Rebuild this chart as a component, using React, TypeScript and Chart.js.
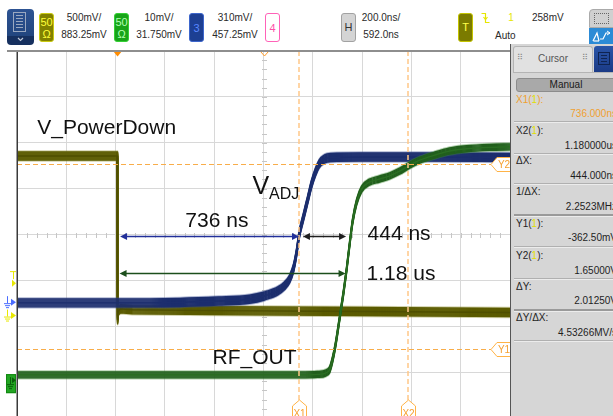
import React, { useEffect, useRef } from "react";
import { Chart, registerables } from "chart.js";

Chart.register(...registerables);

const FONT = '"Liberation Sans", Arial, Helvetica, sans-serif';

// ---- horizontal: time in ns (200 ns/div, 10 div, position 592 ns) ----
const X_MIN = -408;
const X_MAX = 1592;
const X_GRID = [-408, -208, -8, 192, 392, 592, 792, 992, 1192, 1392, 1592];
const H_POSITION = 592;
const TRIGGER_TIME = 0;
// ---- vertical: screen divisions (8 div, 0 = centre) ----
const Y_MIN = -4;
const Y_MAX = 4;

// ---- channel settings (V/div, offset V) ----
const CH1_SCALE = 0.5;
const CH1_OFFSET = 0.88325;
const CH2_SCALE = 0.01;
const CH2_OFFSET = 0.03175;
const CH3_SCALE = 0.31;
const CH3_OFFSET = 0.45725;

// ---- waveforms: time (ns) / screen divisions ----
// Channel 1 (yellow) V_PowerDown
const CH1_T = [-408, -2, 0, 3, 12, 60, 400, 1000, 1592];
const CH1_Y = [1.71, 1.71, -1.86, -1.67, -1.62, -1.64, -1.66, -1.68, -1.7];
// Channel 3 (blue) V_ADJ
const CH3_T = [-408, 130, 410, 535, 596, 650, 677, 698, 714, 726, 736, 754, 771, 787, 803, 818, 840, 868, 980, 1230, 1592];
const CH3_Y = [-1.49, -1.49, -1.45, -1.41, -1.34, -1.23, -1.12, -0.97, -0.73, -0.4, -0.03, 0.38, 0.75, 1.1, 1.36, 1.54, 1.65, 1.68, 1.69, 1.69, 1.68];
// Channel 2 (green) RF_OUT
const CH2_T = [-408, 738, 811, 844, 860, 872, 884, 901, 917, 929, 941, 953, 970, 990, 1022, 1063, 1104, 1144, 1185, 1226, 1286, 1347, 1416, 1510, 1592];
const CH2_Y = [-3.06, -3.06, -3.05, -3.02, -2.95, -2.73, -2.41, -1.82, -1.25, -0.77, -0.23, 0.27, 0.71, 0.99, 1.14, 1.21, 1.28, 1.38, 1.51, 1.62, 1.73, 1.82, 1.87, 1.9, 1.91];

// ---- cursors (channel 1) ----
const X1_NS = 736;
const X2_NS = 1180;
const Y1_V = -0.3625;
const Y2_V = 1.65;

// ---- annotations ----
const LABELS = [
  { text: "V_PowerDown", t: -326, d: 2.2 },
  { text: "736 ns", t: 275, d: 0.163 },
  { text: "444 ns", t: 1014, d: -0.109 },
  { text: "1.18 us", t: 1010, d: -0.99 },
  { text: "RF_OUT", t: 385, d: -2.82 },
];
const VADJ = { t: 547, d: 0.893 };
const ARROWS = [
  { from: 10, to: 736, d: -0.03, color: "#22309a" },
  { from: 752, to: 927, d: -0.03, color: "#1e1e1e" },
  { from: 8, to: 925, d: -0.84, color: "#1c4f1c" },
];
const T_MARK_DIV = -1.06;

const toDiv = (v: number, scale: number, off: number) => (v - off) / scale;
const pts = (t: number[], y: number[]) => t.map((v, i) => ({ x: v, y: y[i] }));

const bandPlugin = {
  id: "scopeBand",
  beforeDatasetsDraw(chart: any) {
    const { ctx, scales } = chart;
    const x = scales.x;
    const y = scales.y;
    const cx = Math.round(x.getPixelForValue(H_POSITION)) + 0.5;
    const cy = Math.round(y.getPixelForValue(0)) + 0.5;
    ctx.save();
    ctx.strokeStyle = "#c6c6c6";
    ctx.lineWidth = 1;
    ctx.beginPath();
    for (let i = 0; i <= 50; i++) {
      const px = Math.round(x.getPixelForValue(X_MIN + i * 40)) + 0.5;
      ctx.moveTo(px, cy - 2.5);
      ctx.lineTo(px, cy + 2.5);
    }
    for (let j = 0; j <= 40; j++) {
      const py = Math.round(y.getPixelForValue(Y_MIN + j * 0.2)) + 0.5;
      ctx.moveTo(cx - 2.5, py);
      ctx.lineTo(cx + 2.5, py);
    }
    ctx.stroke();
    ctx.restore();
  },
  beforeDatasetDraw(chart: any, args: any) {
    const ds = chart.data.datasets[args.index];
    const line = args.meta.dataset;
    if (!ds.band || !line) return;
    const { ctx, chartArea: a } = chart;
    line.updateControlPoints(a, "x");
    const p = new Path2D();
    line.path(p);
    ctx.save();
    ctx.beginPath();
    ctx.rect(a.left, a.top, a.right - a.left, a.bottom - a.top);
    ctx.clip();
    ctx.lineJoin = "round";
    ctx.lineWidth = 1.4;
    const { fringe, core, inner, outer } = ds.band;
    ctx.strokeStyle = fringe;
    ctx.globalAlpha = 0.4;
    for (let dy = -outer; dy <= outer; dy += 1) {
      ctx.save();
      ctx.translate(0, dy);
      ctx.stroke(p);
      ctx.restore();
    }
    ctx.globalAlpha = 1;
    ctx.strokeStyle = core;
    for (let dy = -inner; dy <= inner; dy += 1) {
      ctx.save();
      ctx.translate(0, dy);
      ctx.stroke(p);
      ctx.restore();
    }
    ctx.restore();
  },
};

function arrowHead(ctx: any, tipX: number, yy: number, dir: number) {
  ctx.beginPath();
  ctx.moveTo(tipX, yy);
  ctx.lineTo(tipX - dir * 7, yy - 3.5);
  ctx.lineTo(tipX - dir * 7, yy + 3.5);
  ctx.closePath();
  ctx.fill();
}

function groundSym(ctx: any, x0: number, yy: number, color: string) {
  ctx.strokeStyle = color;
  ctx.lineWidth = 1;
  ctx.beginPath();
  ctx.moveTo(x0 + 0.5, yy - 6);
  ctx.lineTo(x0 + 0.5, yy + 1);
  ctx.moveTo(x0 - 3, yy + 1.5);
  ctx.lineTo(x0 + 4, yy + 1.5);
  ctx.moveTo(x0 - 2, yy + 3.5);
  ctx.lineTo(x0 + 3, yy + 3.5);
  ctx.moveTo(x0 - 1, yy + 5.5);
  ctx.lineTo(x0 + 2, yy + 5.5);
  ctx.stroke();
}

const overlayPlugin = {
  id: "scopeOverlay",
  afterDatasetsDraw(chart: any) {
    const { ctx, chartArea: a, scales } = chart;
    const x = scales.x;
    const y = scales.y;
    ctx.save();

    // cursors
    ctx.setLineDash([5, 3]);
    ctx.lineWidth = 1.5;
    ctx.strokeStyle = "#ffc888";
    for (const t of [X1_NS, X2_NS]) {
      const px = Math.round(x.getPixelForValue(t));
      ctx.beginPath();
      ctx.moveTo(px, a.top);
      ctx.lineTo(px, a.bottom - 18);
      ctx.stroke();
    }
    ctx.lineWidth = 1;
    ctx.strokeStyle = "#f8ad4a";
    const yTags: number[] = [];
    for (const v of [Y1_V, Y2_V]) {
      const py = Math.round(y.getPixelForValue(toDiv(v, CH1_SCALE, CH1_OFFSET))) + 0.5;
      yTags.push(py);
      ctx.beginPath();
      ctx.moveTo(a.left, py);
      ctx.lineTo(a.right - 19, py);
      ctx.stroke();
    }
    ctx.setLineDash([]);

    // cursor tags
    ctx.font = `10px ${FONT}`;
    ctx.textAlign = "center";
    ctx.textBaseline = "middle";
    [X1_NS, X2_NS].forEach((t, i) => {
      const px = Math.round(x.getPixelForValue(t)) + 0.5;
      const b = a.bottom;
      ctx.beginPath();
      ctx.moveTo(px, b - 18);
      ctx.lineTo(px + 7, b - 12);
      ctx.lineTo(px + 7, b + 4);
      ctx.lineTo(px - 7, b + 4);
      ctx.lineTo(px - 7, b - 12);
      ctx.closePath();
      ctx.fillStyle = "#ffffff";
      ctx.fill();
      ctx.strokeStyle = "#ffb347";
      ctx.lineWidth = 1;
      ctx.stroke();
      ctx.fillStyle = "#f5a030";
      ctx.fillText(i === 0 ? "X1" : "X2", px, b - 4);
    });
    yTags.forEach((py, i) => {
      const r = a.right;
      ctx.beginPath();
      ctx.moveTo(r - 19, py);
      ctx.lineTo(r - 13, py - 7);
      ctx.lineTo(r + 2, py - 7);
      ctx.lineTo(r + 2, py + 7);
      ctx.lineTo(r - 13, py + 7);
      ctx.closePath();
      ctx.fillStyle = "#ffffff";
      ctx.fill();
      ctx.strokeStyle = "#ffb347";
      ctx.stroke();
      ctx.fillStyle = "#f5a030";
      ctx.fillText(i === 0 ? "Y1" : "Y2", r - 6, py + 1);
    });

    // arrows
    for (const ar of ARROWS) {
      const py = Math.round(y.getPixelForValue(ar.d)) + 0.5;
      const x1 = x.getPixelForValue(ar.from);
      const x2 = x.getPixelForValue(ar.to);
      ctx.strokeStyle = ar.color;
      ctx.fillStyle = ar.color;
      ctx.lineWidth = 1.5;
      ctx.beginPath();
      ctx.moveTo(x1 + 5, py);
      ctx.lineTo(x2 - 5, py);
      ctx.stroke();
      arrowHead(ctx, x1, py, -1);
      arrowHead(ctx, x2, py, 1);
    }

    // labels
    ctx.fillStyle = "#111111";
    ctx.textAlign = "left";
    ctx.textBaseline = "alphabetic";
    ctx.font = `21px ${FONT}`;
    for (const l of LABELS) {
      ctx.fillText(l.text, x.getPixelForValue(l.t), y.getPixelForValue(l.d));
    }
    const vx = x.getPixelForValue(VADJ.t);
    const vy = y.getPixelForValue(VADJ.d);
    ctx.font = `25px ${FONT}`;
    ctx.fillText("V", vx, vy);
    const vw = ctx.measureText("V").width;
    ctx.font = `16px ${FONT}`;
    ctx.fillText("ADJ", vx + vw, vy + 5.5);

    // top markers
    const tx = x.getPixelForValue(TRIGGER_TIME);
    ctx.fillStyle = "#ff8c00";
    ctx.beginPath();
    ctx.moveTo(tx - 4.5, a.top);
    ctx.lineTo(tx + 4.5, a.top);
    ctx.lineTo(tx, a.top + 5.5);
    ctx.closePath();
    ctx.fill();
    const hx = Math.round(x.getPixelForValue(H_POSITION)) + 0.5;
    ctx.strokeStyle = "#ff9a26";
    ctx.lineWidth = 1;
    ctx.beginPath();
    ctx.moveTo(hx - 4, a.top + 0.5);
    ctx.lineTo(hx + 4, a.top + 0.5);
    ctx.lineTo(hx, a.top + 5);
    ctx.closePath();
    ctx.stroke();

    // left frame
    ctx.strokeStyle = "#3a3a3a";
    ctx.lineWidth = 1.5;
    ctx.beginPath();
    ctx.moveTo(a.left + 0.25, a.top);
    ctx.lineTo(a.left + 0.25, a.bottom);
    ctx.stroke();

    // left channel markers
    const L = a.left;
    // trigger level
    const ty = y.getPixelForValue(T_MARK_DIV);
    ctx.fillStyle = "#e8e800";
    ctx.strokeStyle = "#e8e800";
    ctx.lineWidth = 1;
    ctx.beginPath();
    ctx.moveTo(L - 7, ty - 11.5);
    ctx.lineTo(L - 1, ty - 11.5);
    ctx.moveTo(L - 3.5, ty - 11.5);
    ctx.lineTo(L - 3.5, ty - 4);
    ctx.stroke();
    ctx.beginPath();
    ctx.moveTo(L - 1, ty);
    ctx.lineTo(L - 5, ty - 3.5);
    ctx.lineTo(L - 5, ty + 3.5);
    ctx.closePath();
    ctx.fill();
    // ch3 ground (blue)
    const g3 = y.getPixelForValue(toDiv(0, CH3_SCALE, CH3_OFFSET));
    groundSym(ctx, L - 10, g3, "#4a6cff");
    ctx.fillStyle = "#4a6cff";
    ctx.beginPath();
    ctx.moveTo(L - 1, g3);
    ctx.lineTo(L - 6, g3 - 3.5);
    ctx.lineTo(L - 6, g3 + 3.5);
    ctx.closePath();
    ctx.fill();
    // ch1 ground (yellow)
    const g1 = y.getPixelForValue(toDiv(0, CH1_SCALE, CH1_OFFSET));
    groundSym(ctx, L - 10, g1, "#e8e800");
    ctx.fillStyle = "#e8e800";
    ctx.beginPath();
    ctx.moveTo(L - 1, g1);
    ctx.lineTo(L - 6, g1 - 3.5);
    ctx.lineTo(L - 6, g1 + 3.5);
    ctx.closePath();
    ctx.fill();
    // ch2 ground (green box)
    const g2 = y.getPixelForValue(toDiv(0, CH2_SCALE, CH2_OFFSET));
    ctx.fillStyle = "#22a522";
    ctx.fillRect(L - 11, g2 - 6, 10, 19);
    ctx.strokeStyle = "#118811";
    ctx.strokeRect(L - 10.5, g2 - 5.5, 9, 18);
    groundSym(ctx, L - 7, g2 + 3, "#0b5e0b");
    ctx.fillStyle = "#0b5e0b";
    ctx.beginPath();
    ctx.moveTo(L - 1, g2);
    ctx.lineTo(L - 5, g2 - 3);
    ctx.lineTo(L - 5, g2 + 3);
    ctx.closePath();
    ctx.fill();

    ctx.restore();
  },
};

const PANEL_ROWS = [
  { label: ["X1(", "1", "):"], value: "736.000ns", ly: 100, vy: 114, sy: 121, orange: true },
  { label: ["X2(", "1", "):"], value: "1.180000us", ly: 131, vy: 146, sy: 153 },
  { label: ["ΔX:"], value: "444.000ns", ly: 161, vy: 176, sy: 183 },
  { label: ["1/ΔX:"], value: "2.2523MHz", ly: 192, vy: 207, sy: 214, thick: true },
  { label: ["Y1(", "1", "):"], value: "-362.50mV", ly: 224, vy: 238, sy: 246 },
  { label: ["Y2(", "1", "):"], value: "1.65000V", ly: 256, vy: 271, sy: 278 },
  { label: ["ΔY:"], value: "2.01250V", ly: 287, vy: 301, sy: 309, thick: true },
  { label: ["ΔY/ΔX:"], value: "4.53266MV/s", ly: 318, vy: 333, sy: 340 },
];

const abs = (o: any) => ({ position: "absolute" as const, ...o });

function Badge({ left, bg, border, color, lines }: any) {
  return (
    <div
      style={abs({
        left,
        top: 13,
        width: 13,
        height: 27,
        background: bg,
        border: `1px solid ${border}`,
        borderRadius: 3,
        color,
        fontSize: 11,
        textAlign: "center",
        display: "flex",
        flexDirection: "column",
        justifyContent: "center",
        lineHeight: "12px",
      })}
    >
      {lines.map((s: string, i: number) => (
        <div key={i}>{s}</div>
      ))}
    </div>
  );
}

function Centered({ cx, cy, text, color = "#2a2a2a" }: any) {
  return (
    <div style={abs({ left: cx - 40, width: 80, top: cy - 6, lineHeight: "12px", fontSize: 10, textAlign: "center", color, whiteSpace: "nowrap" })}>
      {text}
    </div>
  );
}

export default function App() {
  const ref = useRef<HTMLCanvasElement>(null);

  useEffect(() => {
    const chart = new Chart(ref.current as HTMLCanvasElement, {
      type: "line",
      data: {
        datasets: [
          {
            label: "RF_OUT",
            data: pts(CH2_T, CH2_Y),
            borderColor: "#2a6e22",
            borderWidth: 1.4,
            pointRadius: 0,
            cubicInterpolationMode: "monotone",
            band: { core: "#215f1c", fringe: "#3f8a35", inner: 3, outer: 4 },
          } as any,
          {
            label: "V_ADJ",
            data: pts(CH3_T, CH3_Y),
            borderColor: "#1c2e6e",
            borderWidth: 1.4,
            pointRadius: 0,
            cubicInterpolationMode: "monotone",
            band: { core: "#1c2e6e", fringe: "#34488f", inner: 4, outer: 5 },
          } as any,
          {
            label: "V_PowerDown",
            data: pts(CH1_T, CH1_Y),
            borderColor: "#4f4f00",
            borderWidth: 1.4,
            pointRadius: 0,
            tension: 0,
            band: { core: "#5b5b00", fringe: "#8f8f30", inner: 4, outer: 5 },
          } as any,
        ],
      },
      options: {
        animation: false,
        responsive: false,
        maintainAspectRatio: false,
        events: [],
        layout: { padding: { left: 17, top: 7, right: 1, bottom: 2 } },
        plugins: { legend: { display: false }, tooltip: { enabled: false } },
        scales: {
          x: {
            type: "linear",
            min: X_MIN,
            max: X_MAX,
            afterBuildTicks: (ax: any) => {
              ax.ticks = X_GRID.map((v) => ({ value: v }));
            },
            grid: { color: "#d8d8d8", lineWidth: 1, drawTicks: false },
            border: { display: false },
            ticks: { display: false },
          },
          y: {
            type: "linear",
            min: Y_MIN,
            max: Y_MAX,
            grid: { color: "#d8d8d8", lineWidth: 1, drawTicks: false },
            border: { display: false },
            ticks: { display: false, stepSize: 1 },
          },
        },
      } as any,
      plugins: [bandPlugin, overlayPlugin],
    });
    return () => chart.destroy();
  }, []);

  return (
    <div style={{ position: "relative", width: 613, height: 416, overflow: "hidden", background: "#ffffff", fontFamily: FONT }}>
      <style>{"body{margin:0}"}</style>

      {/* menu button */}
      <div style={abs({ left: 7, top: 9, width: 27, height: 36, borderRadius: 4, background: "linear-gradient(#2d5393 0%, #22467f 75%, #16305f 76%, #16305f 100%)", overflow: "hidden" })}>
        <div
          style={abs({
            left: 6,
            top: 3,
            width: 13,
            height: 20,
            border: "1px solid #9aa8c0",
            background: "repeating-linear-gradient(to bottom, transparent 0px, transparent 2px, #9aa8c0 2px, #9aa8c0 3px)",
            backgroundClip: "content-box",
            padding: "2px 2px",
            boxSizing: "border-box",
          })}
        />
        <svg style={abs({ left: 10, top: 28, width: 7, height: 5 })} viewBox="0 0 7 5">
          <polyline points="1,1 3.5,3.5 6,1" fill="none" stroke="#c0c8d8" strokeWidth="1.2" />
        </svg>
      </div>

      {/* channel badges */}
      <Badge left={39} bg="#818100" border="#caca10" color="#ffff3a" lines={["50", "Ω"]} />
      <Centered cx={84} cy={18} text="500mV/" />
      <Centered cx={84} cy={35} text="883.25mV" />
      <Badge left={114} bg="#18a418" border="#35d035" color="#b4ffb4" lines={["50", "Ω"]} />
      <Centered cx={159} cy={18} text="10mV/" />
      <Centered cx={159} cy={35} text="31.750mV" />
      <Badge left={189} bg="#1d3f93" border="#3d66cc" color="#5a88ff" lines={["3"]} />
      <Centered cx={235} cy={18} text="310mV/" />
      <Centered cx={235} cy={35} text="457.25mV" />
      <Badge left={265} bg="#ffffff" border="#ff62b8" color="#ff4fa8" lines={["4"]} />

      {/* horizontal */}
      <div style={abs({ left: 341, top: 13, width: 13, height: 27, background: "#d4d4d4", border: "1px solid #a2a2a2", borderRadius: 3, color: "#333", fontSize: 11, lineHeight: "27px", textAlign: "center" })}>H</div>
      <Centered cx={381} cy={18} text="200.0ns/" />
      <Centered cx={381} cy={35} text="592.0ns" />

      {/* trigger */}
      <div style={abs({ left: 458, top: 13, width: 13, height: 27, background: "#7b7b00", border: "1px solid #c4c400", borderRadius: 3, color: "#ffff4a", fontSize: 11, lineHeight: "27px", textAlign: "center" })}>T</div>
      <svg style={abs({ left: 481, top: 12, width: 9, height: 12 })} viewBox="0 0 9 12">
        <polyline points="0.5,1.5 4.5,1.5 4.5,10.5 8.5,10.5" fill="none" stroke="#e6e600" strokeWidth="1.2" />
        <polyline points="2.5,5 4.5,7.5 6.5,5" fill="none" stroke="#e6e600" strokeWidth="1.2" />
      </svg>
      <Centered cx={511} cy={18} text="1" color="#e6e600" />
      <div style={abs({ left: 532, top: 12, lineHeight: "12px", fontSize: 10, color: "#2a2a2a" })}>258mV</div>
      <div style={abs({ left: 495, top: 30, lineHeight: "12px", fontSize: 10, color: "#2a2a2a" })}>Auto</div>

      {/* top-right tool icon */}
      <div style={abs({ left: 589, top: 9, width: 26, height: 19, background: "#d0d0d0", border: "1px solid #aaaaaa", borderRadius: "4px 0 0 0", boxSizing: "border-box" })}>
        <div style={abs({ left: 4, top: 3, width: 13, height: 9, border: "1px dotted #666" })} />
      </div>
      <div style={abs({ left: 589, top: 28, width: 26, height: 17, background: "#2c8bd6" })}>
        <svg style={abs({ left: 3, top: 2, width: 20, height: 13 })} viewBox="0 0 20 13">
          <polyline points="1,11 5,3 7,11" fill="none" stroke="#ffffff" strokeWidth="1.2" />
          <line x1="1.5" y1="11" x2="7" y2="11" stroke="#ffffff" strokeWidth="1.2" />
          <polyline points="8,9 11,9 14,3 18,3" fill="none" stroke="#ffffff" strokeWidth="1.2" />
          <polyline points="15,1 18,3 15,5" fill="none" stroke="#ffffff" strokeWidth="1" />
        </svg>
      </div>

      {/* plot */}
      <canvas ref={ref} width={511} height={376} style={abs({ left: 0, top: 44, width: 511, height: 376 })} />
      <div style={abs({ left: 7, top: 50, width: 504, height: 2, background: "#8e8e8e" })} />

      {/* right panel */}
      <div style={abs({ left: 510, top: 44, width: 103, height: 372, background: "#d6d6d6", borderLeft: "1px solid #555555" })} />
      <div style={abs({ left: 513, top: 46, width: 80, height: 26, background: "#e1e1e1", border: "1px solid #b4b4b4", borderBottom: "none", borderRadius: "3px 3px 0 0", boxSizing: "border-box" })}>
        <div style={abs({ left: 3, top: 6, fontSize: 8, color: "#888", lineHeight: "10px", fontFamily: "DejaVu Sans" })}>⠿</div>
        <div style={abs({ left: 0, width: 78, top: 6, fontSize: 10, color: "#555", lineHeight: "12px", textAlign: "center" })}>Cursor</div>
        <div style={abs({ left: 68, top: 6, fontSize: 8, color: "#888", lineHeight: "10px", fontFamily: "DejaVu Sans" })}>⠿</div>
      </div>
      <div style={abs({ left: 594, top: 46, width: 19, height: 26, background: "linear-gradient(#2a55a8, #1a3a86)", borderRadius: "3px 0 0 0" })}>
        <div
          style={abs({
            left: 4,
            top: 6,
            width: 12,
            height: 13,
            border: "1px solid #0f2452",
            background: "repeating-linear-gradient(to bottom, transparent 0px, transparent 2px, #0f2452 2px, #0f2452 3px)",
            backgroundClip: "content-box",
            padding: "1px 2px",
            boxSizing: "border-box",
          })}
        />
      </div>
      <div style={abs({ left: 513, top: 72, width: 100, height: 1, background: "#b4b4b4" })} />
      <div style={abs({ left: 516, top: 78, width: 100, height: 14, background: "#a9a9a9", border: "1px solid #8c8c8c", borderRadius: 3, boxSizing: "border-box", fontSize: 10, lineHeight: "12px", textAlign: "center", color: "#1a1a1a" })}>Manual</div>

      {PANEL_ROWS.map((r, i) => (
        <React.Fragment key={i}>
          <div style={abs({ left: 516, top: r.ly - 6, fontSize: 10, lineHeight: "12px", color: r.orange ? "#f0a030" : "#1e1e1e", whiteSpace: "nowrap" })}>
            {r.label.length === 3 ? (
              <>
                {r.label[0]}
                <span style={{ color: "#e0e000" }}>{r.label[1]}</span>
                {r.label[2]}
              </>
            ) : (
              r.label[0]
            )}
          </div>
          <div style={abs({ left: 511, width: 106, top: r.vy - 6, fontSize: 10, lineHeight: "12px", textAlign: "right", color: r.orange ? "#f0a030" : "#1e1e1e", whiteSpace: "nowrap" })}>
            {r.value}
          </div>
          <div
            style={abs({
              left: 514,
              width: 99,
              top: r.sy,
              height: r.thick ? 2 : 1,
              background: r.thick ? "#9a9a9a" : "#b0b0b0",
              borderBottom: "1px solid #ececec",
            })}
          />
        </React.Fragment>
      ))}
    </div>
  );
}
